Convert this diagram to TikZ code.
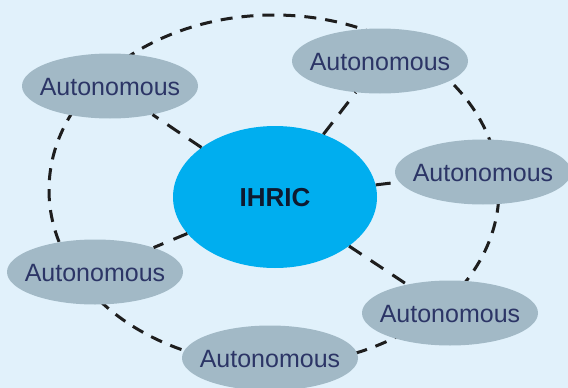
\documentclass[tikz,border=0pt]{standalone}
\usepackage{fontspec}
\setmainfont{Liberation Sans}
\usetikzlibrary{shapes.geometric}
\definecolor{bg}{HTML}{E1F1FB}
\definecolor{satfill}{HTML}{A2B9C6}
\definecolor{hubfill}{HTML}{00AEEF}
\definecolor{sattext}{HTML}{2C3566}
\definecolor{hubtext}{HTML}{0E1A30}
\definecolor{dashcol}{HTML}{1E1E1E}
\newcommand{\zerobox}[1]{\raisebox{-0.36em}[0pt][0pt]{\makebox[0pt]{#1}}}
\begin{document}
\begin{tikzpicture}[x=1pt,y=-1pt,
  sat/.style={ellipse, fill=satfill, minimum width=176pt, minimum height=65pt,
    inner sep=0pt, text=sattext, font=\fontsize{25}{25}\selectfont},
  hub/.style={ellipse, fill=hubfill, minimum width=204pt, minimum height=142pt,
    inner sep=0pt, text=hubtext, font=\bfseries\fontsize{26}{26}\selectfont},
  ring/.style={draw=dashcol, line width=3pt, dash pattern=on 12pt off 9pt},
  spoke/.style={draw=dashcol, line width=3pt, dash pattern=on 15pt off 11pt}]
\useasboundingbox[fill=bg] (0,0) rectangle (568,388);
\draw[ring] (274,190) ellipse [x radius=225pt, y radius=175pt];
\node[hub] (hub) at (275,197) {\zerobox{IHRIC}};
\node[sat] (s1) at (110,86) {\zerobox{Autonomous}};
\node[sat] (s2) at (380,61) {\zerobox{Autonomous}};
\node[sat] (s3) at (483,172) {\zerobox{Autonomous}};
\node[sat] (s4) at (95,272) {\zerobox{Autonomous}};
\node[sat] (s5) at (450,313) {\zerobox{Autonomous}};
\node[sat] (s6) at (270,358) {\zerobox{Autonomous}};
\draw[spoke] (hub) -- (s1);
\draw[spoke] (hub) -- (s2);
\draw[spoke] (hub) -- (s3);
\draw[spoke] (hub) -- (s4);
\draw[spoke] (hub) -- (s5);
\end{tikzpicture}
\end{document}
